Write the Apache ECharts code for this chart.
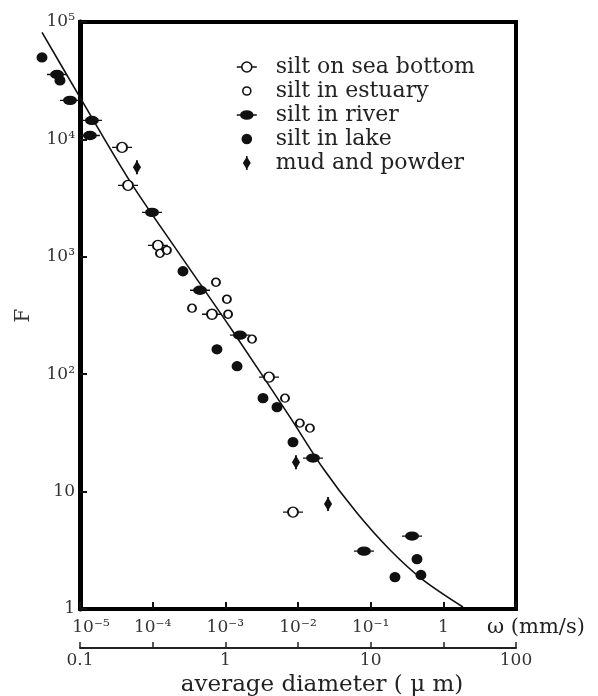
<!DOCTYPE html>
<html><head><meta charset="utf-8">
<script src="https://cdn.jsdelivr.net/npm/echarts@6/dist/echarts.min.js"></script>
<style>html,body{margin:0;padding:0;background:#fff}#c{width:598px;height:696px}</style>
</head><body><div id="c"></div>
<script>
// ---- data (ω in mm/s, F dimensionless) ----
const curveOmega = [3.0e-6, 1.0e-5, 4.88e-5, 2.16e-4, 1.24e-3, 7.76e-3, 2.21e-2, 6.49e-2, 0.185, 0.525, 1.86];
const curveF     = [81500, 22800, 4395, 1135, 237, 43.1, 15.8, 6.56, 3.18, 1.77, 1.04];

const seaBottomOmega = [3.79e-5, 4.58e-5, 1.18e-4, 6.55e-4, 3.99e-3, 8.53e-3];
const seaBottomF     = [8550, 4060, 1250, 324, 94.3, 6.69];

const estuaryOmega = [1.26e-4, 1.57e-4, 3.48e-4, 7.43e-4, 1.05e-3, 1.09e-3, 2.33e-3, 6.62e-3, 1.06e-2, 1.46e-2];
const estuaryF     = [1070, 1136, 365, 607, 435, 324, 199, 62.5, 38.3, 34.7];

const riverOmega = [4.83e-6, 7.28e-6, 1.46e-5, 1.37e-5, 9.8e-5, 4.48e-4, 1.59e-3, 1.61e-2, 8.09e-2, 0.371];
const riverF     = [35700, 21500, 14500, 10800, 2390, 519, 215, 19.3, 3.11, 4.18];

const lakeOmega = [3.0e-6, 5.3e-6, 2.61e-4, 7.67e-4, 1.45e-3, 3.30e-3, 5.14e-3, 8.53e-3, 0.434, 0.216, 0.492];
const lakeF     = [49900, 31800, 753, 163, 117, 62.5, 52.4, 26.4, 2.66, 1.87, 1.95];

const mudOmega = [6.08e-5, 9.38e-3, 2.59e-2];
const mudF     = [5780, 17.8, 7.83];

const seriesNames = ['silt on sea bottom', 'silt in estuary', 'silt in river', 'silt in lake', 'mud and powder'];

const omegaTickLabels    = ['10⁻⁵', '10⁻⁴', '10⁻³', '10⁻²', '10⁻¹', '1'];
const diameterTickLabels = ['0.1', '1', '10', '100'];
const fTickLabels        = ['1', '10', '10²', '10³', '10⁴', '10⁵'];

// ---- layout / styling ----
const FONT = 'DejaVu Serif';
const G = { left: 80, right: 82, top: 22, bottom: 87 };
const plotW = 598 - G.left - G.right;           // px spanned by ω 1e-5 .. 10
const pxPerDecade = plotW / 6;
const extLeft = 50;                               // wider hidden grid for the fitted curve drawn past the frame
const wideMin = Math.pow(10, -5 - extLeft / pxPerDecade);

const SYM = {
  sea:    'path://M0,0M24,16M2,8L7,8M17,8L22,8M7,8A5,5 0 1 1 17,8A5,5 0 1 1 7,8Z',
  est:    'path://M0,0M24,16M8,8A4,4 0 1 1 16,8A4,4 0 1 1 8,8Z',
  river:  'path://M0,0M24,16M2,8L22,8M6,8A6,4 0 1 1 18,8A6,4 0 1 1 6,8Z',
  lake:   'path://M0,0M24,16M7.5,8A4.5,4.5 0 1 1 16.5,8A4.5,4.5 0 1 1 7.5,8Z',
  mud:    'path://M0,0M24,16M12,1L12,15M12,3L15,8L12,13L9,8Z'
};
const zip = (xs, ys) => xs.map((x, i) => [x, ys[i]]);
const expo = v => Math.round(Math.log10(v));

function scatter(name, xs, ys, sym, filled) {
  return {
    type: 'scatter', name, data: zip(xs, ys), symbol: sym, symbolSize: [24, 16],
    xAxisIndex: 0, yAxisIndex: 0, clip: false, z: 5,
    itemStyle: { color: filled ? '#111' : '#fff', borderColor: '#111', borderWidth: 1.6, opacity: 1 }
  };
}

const chart = echarts.init(document.getElementById('c'), null, { renderer: 'canvas' });
const option = {
  backgroundColor: '#fff',
  animation: false,
  textStyle: { fontFamily: FONT },
  grid: [
    { left: G.left, right: G.right, top: G.top, bottom: G.bottom, show: true, borderColor: '#000', borderWidth: 4, outerBoundsMode: 'none', containLabel: false },
    { left: G.left - extLeft, right: G.right, top: G.top, bottom: G.bottom, show: false, outerBoundsMode: 'none', containLabel: false }
  ],
  legend: {
    orient: 'vertical', left: 229, top: 51, itemWidth: 24, itemHeight: 16, itemGap: 2,
    textStyle: { fontFamily: FONT, fontSize: 22, color: '#222', padding: [0, 0, 0, 12] },
    itemStyle: { borderWidth: 1.6 },
    data: [
      { name: seriesNames[0], icon: SYM.sea },
      { name: seriesNames[1], icon: SYM.est },
      { name: seriesNames[2], icon: SYM.river },
      { name: seriesNames[3], icon: SYM.lake },
      { name: seriesNames[4], icon: SYM.mud }
    ]
  },
  xAxis: [
    {
      gridIndex: 0, type: 'log', min: 1e-5, max: 10, position: 'bottom',
      name: 'ω (mm/s)', nameLocation: 'end', nameGap: -29,
      nameTextStyle: { fontFamily: FONT, fontSize: 21, color: '#222', align: 'left', verticalAlign: 'top', padding: [8, 0, 0, 0] },
      axisLine: { show: true, onZero: false, lineStyle: { color: '#000', width: 4 } },
      axisTick: { show: true, inside: true, length: 7, lineStyle: { color: '#111', width: 2 } },
      axisLabel: {
        margin: 10, fontSize: 17, color: '#333', showMinLabel: true, showMaxLabel: true,
        formatter: v => { const i = expo(v) + 5; if (i === 0) return '{a|' + omegaTickLabels[0] + '}'; return (i > 0 && i < omegaTickLabels.length) ? omegaTickLabels[i] : ''; },
        rich: { a: { fontFamily: FONT, fontSize: 17, color: '#333', padding: [0, 0, 0, 22] } }
      },
      splitLine: { show: false }
    },
    {
      gridIndex: 0, type: 'log', min: 0.1, max: 100, position: 'bottom', offset: 39,
      name: 'average diameter ( μ m)', nameLocation: 'middle', nameGap: 26,
      nameTextStyle: { fontFamily: FONT, fontSize: 23, color: '#222', padding: [0, 0, 0, 48] },
      axisLine: { show: true, onZero: false, lineStyle: { color: '#222', width: 2 } },
      axisTick: { show: true, inside: true, length: 6, lineStyle: { color: '#222', width: 1.5 } },
      axisLabel: {
        margin: 4, fontSize: 17, color: '#333', showMinLabel: true, showMaxLabel: true,
        formatter: v => { const i = expo(v) + 1; return diameterTickLabels[i] || ''; }
      },
      splitLine: { show: false }
    },
    {
      gridIndex: 0, type: 'log', min: 1e-5, max: 10, position: 'bottom', offset: 39,
      axisLine: { show: false }, axisLabel: { show: false }, splitLine: { show: false },
      axisTick: { show: true, inside: true, length: 6, lineStyle: { color: '#222', width: 1.5 } }
    },
    {
      gridIndex: 1, type: 'log', min: wideMin, max: 10, show: false
    }
  ],
  yAxis: [
    {
      gridIndex: 0, type: 'log', min: 1, max: 1e5,
      name: 'F', nameLocation: 'middle', nameGap: 46, nameRotate: 90,
      nameTextStyle: { fontFamily: FONT, fontSize: 20, color: '#333' },
      axisLine: { show: true, onZero: false, lineStyle: { color: '#000', width: 5 } },
      axisTick: { show: true, inside: true, length: 7, lineStyle: { color: '#111', width: 2 } },
      axisLabel: {
        margin: 5, fontSize: 17, color: '#333', showMinLabel: true, showMaxLabel: true,
        formatter: v => fTickLabels[expo(v)] || ''
      },
      splitLine: { show: false }
    },
    { gridIndex: 1, type: 'log', min: 1, max: 1e5, show: false }
  ],
  series: [
    {
      type: 'line', name: 'fit', data: zip(curveOmega, curveF), xAxisIndex: 3, yAxisIndex: 1,
      showSymbol: false, symbol: 'none', smooth: 0.3, clip: false, silent: true, z: 3,
      lineStyle: { color: '#111', width: 1.6 }
    },
    scatter(seriesNames[0], seaBottomOmega, seaBottomF, SYM.sea, false),
    scatter(seriesNames[1], estuaryOmega, estuaryF, SYM.est, false),
    scatter(seriesNames[2], riverOmega, riverF, SYM.river, true),
    scatter(seriesNames[3], lakeOmega, lakeF, SYM.lake, true),
    scatter(seriesNames[4], mudOmega, mudF, SYM.mud, true)
  ]
};
chart.setOption(option);
</script>
</body></html>
